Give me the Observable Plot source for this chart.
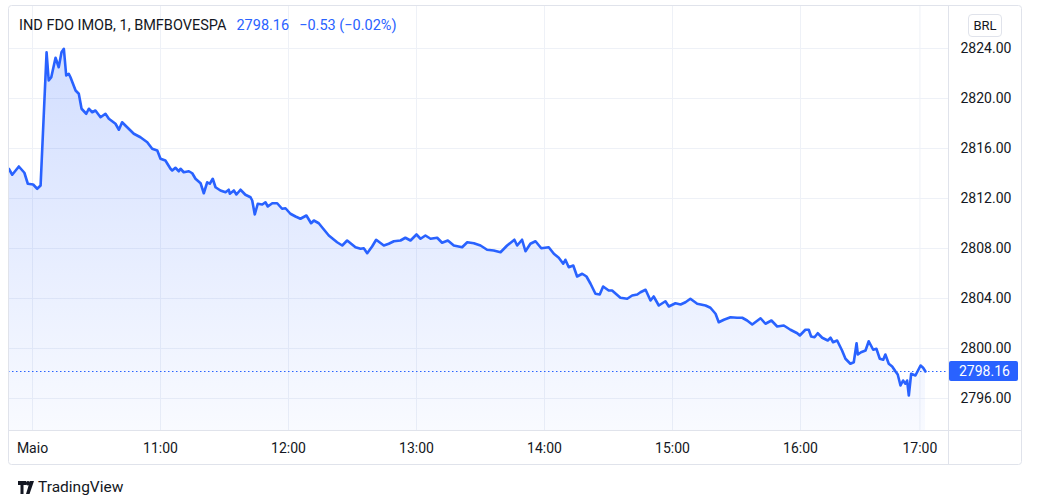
<!DOCTYPE html>
<html><head><meta charset="utf-8">
<script src="https://cdn.jsdelivr.net/npm/d3@7"></script>
<script src="https://cdn.jsdelivr.net/npm/@observablehq/plot@0.6"></script>
<style>
body{margin:0;background:#fff;font-family:Roboto,"Noto Sans",sans-serif;}
#wrap{position:relative;width:1042px;height:502px;overflow:hidden;}
#chart{position:absolute;left:0;top:0;}
.hdr{position:absolute;left:19px;top:17px;font-size:14.5px;line-height:18px;color:#131722;white-space:nowrap;}
.hdr .blue{color:#2962FF;margin-left:10px;}
.brl{position:absolute;left:968px;top:14px;width:32px;height:21px;border:1px solid #e0e3eb;border-radius:4px;font-size:13px;line-height:21px;text-align:center;color:#131722;background:#fff;}
.logo{position:absolute;left:18px;top:478px;height:18px;display:flex;align-items:center;font-size:15.5px;color:#131722;}
.logo svg{margin-right:4px;}
</style></head><body>
<div id="wrap">
<div id="chart"></div>
<div class="hdr"><span id="sym"></span><span class="blue" id="lastv"></span><span class="blue" id="chg"></span></div>
<div class="brl" id="cur"></div>
<div class="logo"><svg width="16" height="13" viewBox="0 0 16 13"><path d="M0 0H8V4H5.5V13H2.5V4H0Z" fill="#131722"/><circle cx="10" cy="2.2" r="2.2" fill="#131722"/><path d="M12 0H16L11.5 13H8Z" fill="#131722"/></svg><span id="brand"></span></div>
</div>
<script>
const symbolTitle = "IND FDO IMOB, 1, BMFBOVESPA";
const lastPrice = 2798.16;
const changeText = "\u22120.53 (\u22120.02%)";
const currency = "BRL";
const brand = "TradingView";

// [bar index from 10:00 (1-minute bars), price]
const barPrice = [
[-11.1,2814.38],[-9.5,2813.90],[-6.4,2814.56],[-3.8,2814.06],[-2.2,2813.18],[0.3,2813.12],[2.2,2812.78],[3.8,2813.04],
[6.6,2823.70],[7.6,2821.44],[8.8,2821.70],[10.8,2823.26],[12.3,2822.50],[13.6,2823.70],[14.7,2823.98],[15.8,2821.84],
[17.0,2821.98],[17.8,2821.70],[20.2,2820.64],[21.7,2820.38],[23.0,2819.18],[25.2,2818.78],[26.4,2819.18],[28.0,2818.90],
[29.5,2819.04],[31.9,2818.50],[34.2,2818.78],[35.8,2818.38],[38.9,2817.98],[40.5,2817.50],[42.0,2818.10],[45.1,2817.58],
[47.5,2817.18],[50.6,2816.90],[53.8,2816.50],[56.1,2815.98],[58.5,2815.84],[60.0,2815.18],[62.3,2815.04],[64.7,2814.38],
[65.5,2814.24],[67.0,2814.46],[68.6,2814.18],[69.4,2814.38],[70.9,2814.10],[73.3,2814.18],[74.9,2814.02],[76.4,2813.58],
[78.8,2813.22],[80.3,2812.42],[81.9,2813.30],[83.1,2813.18],[84.5,2813.58],[85.8,2812.90],[88.1,2812.64],[90.5,2812.50],
[92.0,2812.70],[92.5,2812.38],[94.4,2812.64],[95.6,2812.32],[97.5,2812.70],[99.8,2812.30],[102.2,2812.10],[103.0,2811.84],
[104.2,2810.72],[105.6,2811.58],[107.7,2811.52],[109.2,2811.70],[110.3,2811.36],[112.4,2811.62],[114.7,2811.62],[117.0,2811.18],
[118.6,2811.22],[120.9,2810.78],[123.3,2810.56],[125.6,2810.38],[128.4,2810.64],[130.6,2810.02],[131.9,2810.24],[134.2,2810.02],
[136.3,2809.58],[138.9,2809.04],[142.8,2808.50],[145.2,2808.24],[147.5,2808.64],[151.4,2808.10],[153.8,2807.98],[155.3,2808.02],
[156.9,2807.62],[159.2,2808.16],[161.1,2808.70],[164.7,2808.24],[167.0,2808.38],[169.4,2808.58],[172.5,2808.64],[174.8,2808.86],
[177.2,2808.64],[180.0,2809.12],[181.9,2808.78],[184.2,2809.04],[186.6,2808.78],[189.7,2808.86],[192.0,2808.46],[194.7,2808.64],
[197.5,2808.24],[201.4,2808.10],[203.8,2808.50],[206.9,2808.42],[210.0,2808.24],[213.1,2807.90],[216.2,2807.84],[219.4,2807.70],
[222.5,2808.24],[225.9,2808.70],[227.2,2808.24],[229.5,2808.70],[231.1,2807.78],[233.4,2808.38],[235.8,2808.58],[238.5,2808.02],
[242.0,2808.10],[244.4,2807.58],[246.7,2807.26],[248.8,2806.78],[249.8,2807.10],[251.4,2806.50],[253.5,2806.64],[255.3,2805.76],
[257.7,2805.98],[259.7,2805.76],[261.6,2805.18],[263.9,2804.38],[265.9,2804.32],[267.5,2804.96],[270.1,2804.64],[271.7,2804.64],
[275.6,2804.06],[278.8,2803.98],[281.1,2804.24],[283.5,2804.32],[285.0,2804.50],[287.4,2804.70],[289.7,2803.84],[291.2,2804.16],
[293.6,2803.44],[296.7,2803.78],[298.3,2803.36],[301.4,2803.62],[303.8,2803.52],[306.1,2803.70],[308.4,2803.98],[311.6,2803.58],
[315.5,2803.44],[317.8,2803.26],[320.2,2802.78],[321.7,2802.10],[324.1,2802.30],[327.2,2802.50],[330.3,2802.46],[332.7,2802.46],
[335.0,2802.24],[337.4,2801.92],[341.3,2802.42],[343.6,2801.98],[346.4,2802.24],[349.1,2801.76],[352.2,2801.84],[355.3,2801.50],
[358.5,2801.22],[359.7,2801.04],[362.3,2801.50],[363.9,2801.50],[365.0,2800.96],[366.6,2800.90],[368.1,2801.22],[370.2,2800.86],
[372.8,2800.64],[374.1,2800.86],[375.3,2800.50],[377.2,2800.64],[379.5,2799.84],[381.1,2799.18],[383.4,2798.78],[385.0,2798.90],
[386.3,2800.42],[386.9,2799.52],[388.4,2799.70],[390.5,2799.84],[392.0,2800.58],[394.1,2799.90],[395.6,2799.98],[397.2,2799.18],
[398.8,2799.10],[399.8,2799.52],[401.4,2798.78],[403.0,2798.56],[404.5,2798.18],[405.6,2797.92],[406.9,2797.04],[408.1,2797.44],
[409.2,2797.18],[410.0,2797.44],[410.8,2796.24],[411.9,2797.98],[413.9,2797.84],[416.3,2798.64],[417.5,2798.46],[418.6,2798.16]
];

const yTicks = [2796, 2800, 2804, 2808, 2812, 2816, 2820, 2824];
const xTickBars = [0, 60, 120, 180, 240, 300, 360, 416];
const xTickLabels = ["Maio", "11:00", "12:00", "13:00", "14:00", "15:00", "16:00", "17:00"];

document.getElementById("sym").textContent = symbolTitle;
document.getElementById("lastv").textContent = lastPrice.toFixed(2);
document.getElementById("chg").textContent = changeText;
document.getElementById("cur").textContent = currency;
document.getElementById("brand").textContent = brand;

const data = barPrice.map(([b, v]) => ({b, v}));
const yDomain = [2793.44, 2827.36];
const xDomain = [-11.25, 429.4];

const defs = () => {
  const d = d3.create("svg:defs");
  const g = d.append("linearGradient").attr("id", "areaGrad")
    .attr("gradientUnits", "userSpaceOnUse").attr("x1", 0).attr("y1", 6).attr("x2", 0).attr("y2", 430);
  g.append("stop").attr("offset", "0%").attr("stop-color", "#2962FF").attr("stop-opacity", 0.23);
  g.append("stop").attr("offset", "100%").attr("stop-color", "#2962FF").attr("stop-opacity", 0.03);
  return d.node();
};

const chrome = (index, scales, values, dims) => {
  const g = d3.create("svg:g");
  const right = dims.width - dims.marginRight;
  const bottom = dims.height - dims.marginBottom;
  g.append("line").attr("x1", right + 0.5).attr("x2", right + 0.5).attr("y1", 5).attr("y2", 465)
    .attr("stroke", "#e0e3eb");
  g.append("line").attr("x1", 8).attr("x2", 1022).attr("y1", bottom + 0.5).attr("y2", bottom + 0.5)
    .attr("stroke", "#e0e3eb");
  g.append("rect").attr("x", 8.5).attr("y", 5.5).attr("width", 1013).attr("height", 459).attr("rx", 3)
    .attr("fill", "none").attr("stroke", "#e0e3eb");
  const py = scales.y(lastPrice);
  g.append("rect").attr("x", right + 1).attr("y", py - 10).attr("width", 69).attr("height", 20).attr("rx", 2)
    .attr("fill", "#2962FF");
  g.append("text").attr("x", right + 11).attr("y", py).attr("dy", "0.36em").attr("text-anchor", "start")
    .attr("fill", "#ffffff").attr("font-size", 14).text(lastPrice.toFixed(2));
  return g.node();
};

const chart = Plot.plot({
  width: 1042, height: 470,
  marginLeft: 8, marginRight: 94, marginTop: 6, marginBottom: 40,
  style: {fontFamily: "Roboto, 'Noto Sans', sans-serif", fontSize: "14px", color: "#131722", background: "transparent", overflow: "visible"},
  x: {type: "linear", domain: xDomain},
  y: {type: "linear", domain: yDomain},
  marks: [
    defs,
    Plot.gridY(yTicks, {stroke: "#eef1f7", strokeOpacity: 1}),
    Plot.gridX(xTickBars, {stroke: "#eef1f7", strokeOpacity: 1}),
    Plot.areaY(data, {x: "b", y1: yDomain[0], y2: "v", fill: "url(#areaGrad)", clip: true}),
    Plot.lineY(data, {x: "b", y: "v", stroke: "#2962FF", strokeWidth: 2.6, strokeLinejoin: "round", clip: true}),
    Plot.ruleY([lastPrice], {stroke: "#2962FF", strokeWidth: 1.2, strokeDasharray: "1.5,2.5"}),
    Plot.axisY(yTicks, {anchor: "right", tickSize: 0, tickPadding: 12, tickFormat: d => d.toFixed(2), label: null, fill: "#131722", fontSize: 14}),
    Plot.axisX(xTickBars, {anchor: "bottom", tickSize: 0, tickPadding: 13, tickFormat: d => xTickLabels[xTickBars.indexOf(d)], label: null, fill: "#131722", fontSize: 14}),
    chrome
  ]
});
document.getElementById("chart").appendChild(chart);
</script>
</body></html>
